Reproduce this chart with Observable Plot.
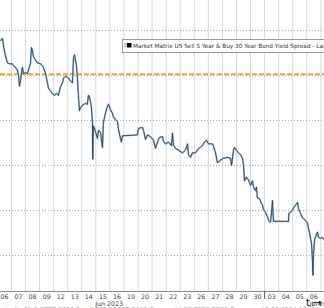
<!DOCTYPE html>
<html>
<head>
<meta charset="utf-8">
<script src="https://cdn.jsdelivr.net/npm/d3@7"></script>
<script src="https://cdn.jsdelivr.net/npm/@observablehq/plot@0.6"></script>
<style>
  html, body { margin: 0; padding: 0; background: #fff; overflow: hidden; }
  #chart { width: 324px; height: 308px; }
</style>
</head>
<body>
<div id="chart"></div>
<script>
// Trading-day labels (index 0 = Jun 06, 2023)
const dayLabels = ["06","07","08","09","12","13","14","15","16","19","20","21","22","23","26","27","28","29","30","03","04","05","06","07"];
const monthLabels = ["Jun 2023", "Jul 2023"];
const monthPos = [7.45, 22.6];
const gridLevels = [5, 0, -5, -10, -15, -20];
const refLevel = 0.15;
const legendText = "Market Matrix US Sell 5 Year & Buy 30 Year Bond Yield Spread - Last Price";
const footerText = "Australia 61 2 9777 8600 Brazil 5511 2395 9000 Europe 44 20 7330 7500 Germany 49 69 9204 1210 Hong Kong 852 2977 6000";

// Session time (trading days since Jun 06) and spread (bp)
const sessionT = [
  -0.28,-0.14,-0.07,0.07,0.21,0.36,0.57,0.64,0.78,0.92,
  1.00,1.07,1.14,1.21,1.28,1.35,1.49,1.64,1.71,1.85,
  1.92,1.99,2.06,2.20,2.35,2.42,2.56,2.70,2.77,2.92,
  3.06,3.13,3.27,3.41,3.56,3.70,3.84,3.98,4.13,4.20,
  4.34,4.48,4.55,4.69,4.84,4.91,4.98,5.12,5.19,5.26,
  5.33,5.41,5.55,5.76,5.90,5.97,6.05,6.12,6.19,6.26,
  6.28,6.33,6.47,6.61,6.69,6.83,6.97,7.04,7.18,7.33,
  7.40,7.54,7.68,7.75,7.90,8.04,8.11,8.25,8.32,8.39,
  9.46,9.53,9.67,9.82,9.89,10.03,10.17,10.38,10.60,10.74,
  10.88,11.02,11.24,11.31,11.45,11.66,11.88,11.95,12.02,12.16,
  12.38,12.66,12.87,13.02,13.09,13.23,13.37,13.58,13.80,14.08,
  14.22,14.37,14.51,14.79,14.86,15.01,15.15,15.36,15.58,15.86,
  16.07,16.15,16.29,16.36,16.50,16.64,16.79,16.93,17.00,17.07,
  17.21,17.35,17.50,17.64,17.71,17.85,17.92,17.99,18.14,18.28,
  18.35,18.42,18.56,18.71,18.78,18.92,18.99,19.06,19.13,20.20,
  20.23,20.34,20.48,20.55,20.70,20.84,20.91,21.05,21.19,21.27,
  21.41,21.55,21.62,21.69,21.84,21.91,21.94,21.98,22.05,22.19,
  22.26,22.33,22.48,22.62,22.76
];
const spreadBp = [
  3.9,4.1,3.3,2.2,1.4,1.3,1.3,1.1,0.9,0.6,
  0.0,-1.2,-0.6,0.3,0.9,0.2,0.3,0.2,0.6,1.3,
  3.1,2.8,2.1,1.7,1.4,1.4,1.3,1.1,0.9,0.2,
  -0.8,-1.4,-1.7,-2.0,-2.2,-2.0,-2.2,-1.3,-0.8,-0.3,
  -0.1,-0.2,-0.3,-0.6,-0.8,1.9,2.3,1.1,-0.3,-2.2,
  -3.9,-3.6,-3.3,-3.1,-3.2,-2.2,-2.4,-2.9,-3.6,-5.3,
  -9.3,-5.6,-6.2,-7.0,-6.1,-6.3,-8.0,-5.2,-4.2,-3.4,
  -3.2,-3.8,-4.2,-4.6,-4.9,-5.1,-6.0,-7.0,-7.4,-6.7,
  -6.6,-5.9,-5.8,-5.8,-6.1,-7.1,-6.6,-6.8,-7.2,-8.1,
  -7.4,-6.9,-6.8,-7.3,-7.6,-7.4,-7.8,-6.4,-7.7,-8.1,
  -8.3,-8.6,-8.3,-7.6,-8.8,-9.1,-8.6,-8.6,-8.1,-7.8,
  -7.4,-7.2,-7.6,-7.6,-7.8,-8.6,-9.7,-9.4,-9.2,-9.1,
  -9.2,-10.0,-8.3,-8.0,-8.3,-8.6,-8.8,-9.2,-9.9,-11.7,
  -11.3,-11.6,-12.2,-11.7,-12.4,-12.8,-12.4,-13.6,-13.7,-14.2,
  -14.4,-14.9,-15.2,-15.7,-16.1,-16.3,-15.3,-13.9,-16.2,-16.2,
  -15.3,-15.2,-15.0,-14.7,-14.4,-14.1,-14.8,-15.3,-15.8,-15.9,
  -16.1,-16.4,-17.0,-17.4,-18.7,-20.8,-22.2,-19.8,-18.3,-17.6,
  -17.4,-18.0,-18.1,-18.0,-18.3
];

const series = sessionT.map((t, i) => ({t, v: spreadBp[i]}));
const months = monthLabels.map((label, i) => ({label, t: monthPos[i]}));
const dayIdx = dayLabels.map((_, i) => i);
const dayBounds = dayLabels.map((_, i) => i - 0.5).concat([dayLabels.length - 0.5]);
const monthBreak = [18.5];
const xDomain = [-0.28, 22.76];
const yDomain = [-24, 8.33];

const font = "'DejaVu Sans', Verdana, sans-serif";

const chart = Plot.plot({
  width: 324,
  height: 308,
  marginLeft: 0,
  marginRight: 0,
  marginTop: 0,
  marginBottom: 17,
  style: {background: "#fff", fontFamily: font, overflow: "hidden"},
  x: {domain: xDomain, axis: null},
  y: {domain: yDomain, axis: null},
  marks: [
    Plot.ruleX(dayBounds, {stroke: "#d8d8d8", strokeWidth: 1}),
    Plot.ruleY(gridLevels, {stroke: "#a8a8a8", strokeWidth: 1, strokeDasharray: "1,2"}),
    Plot.ruleY([refLevel], {stroke: "#f2a631", strokeWidth: 2, strokeDasharray: "5,2"}),
    Plot.line(series, {x: "t", y: "v", stroke: "#9cc0e2", strokeWidth: 1.8, strokeLinejoin: "round"}),
    Plot.line(series, {x: "t", y: "v", stroke: "#1e2a36", strokeWidth: 0.75, strokeLinejoin: "round"}),
    Plot.ruleY([yDomain[0]], {stroke: "#8c8c8c", strokeWidth: 1}),
    Plot.axisX({ticks: dayIdx, tickFormat: i => dayLabels[i], tickSize: 0, tickPadding: 3,
      fontSize: 6.3, fill: "#444", anchor: "bottom"}),
    Plot.axisX({ticks: monthBreak, tickFormat: () => "", tickSize: 8, stroke: "#555", anchor: "bottom"}),
    Plot.text(months, {x: "t", y: yDomain[0], text: "label", dy: 12, fontSize: 6.3,
      fill: "#444", clip: false})
  ]
});

document.getElementById("chart").appendChild(chart);

// Legend box and Bloomberg footer (annotation layer)
const svg = d3.select(chart);
const lg = svg.append("g").attr("text-anchor", "start");
lg.append("rect").attr("x", 122.5).attr("y", 39.5).attr("width", 220).attr("height", 13)
  .attr("fill", "#fff").attr("stroke", "#9a9a9a").attr("stroke-width", 1);
lg.append("rect").attr("x", 124).attr("y", 43).attr("width", 2.5).attr("height", 4.5)
  .attr("fill", "#c8c8c8");
lg.append("rect").attr("x", 127).attr("y", 43).attr("width", 4.5).attr("height", 4.5)
  .attr("fill", "#000");
lg.append("text").attr("x", 133).attr("y", 48.3).attr("font-size", 5.75)
  .attr("text-anchor", "start")
  .attr("font-family", font).attr("fill", "#333").text(legendText);

svg.append("text").attr("x", -6).attr("y", 311.8).attr("font-size", 6.3)
  .attr("text-anchor", "start")
  .attr("font-family", font).attr("fill", "#777").text(footerText);
</script>
</body>
</html>
